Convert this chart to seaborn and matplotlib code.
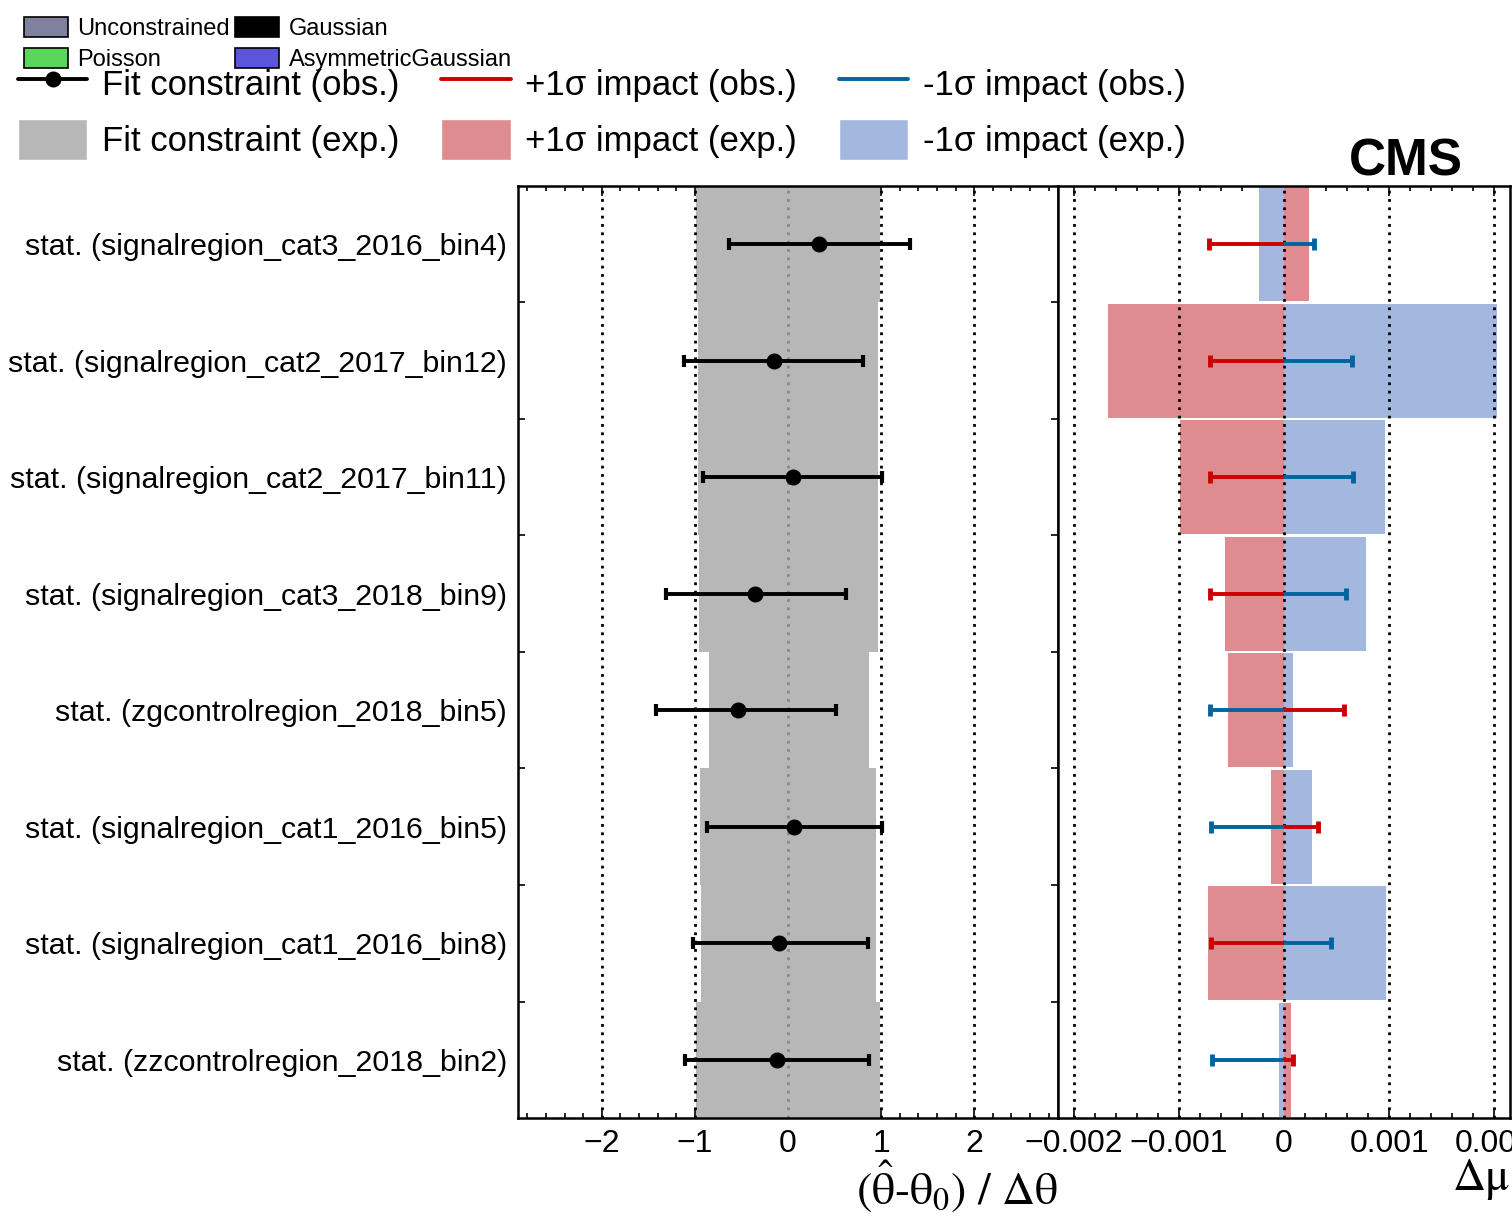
import numpy as np
import pandas as pd
import matplotlib
matplotlib.use("Agg")
import matplotlib.pyplot as plt
from matplotlib.lines import Line2D
from matplotlib.patches import Patch
from matplotlib.ticker import FixedLocator, MultipleLocator
import seaborn as sns

# ─────────────────────────────────────────────
# DONNÉES
# ─────────────────────────────────────────────

PARAMS = [
    "stat. (signalregion_cat3_2016_bin4)",
    "stat. (signalregion_cat2_2017_bin12)",
    "stat. (signalregion_cat2_2017_bin11)",
    "stat. (signalregion_cat3_2018_bin9)",
    "stat. (zgcontrolregion_2018_bin5)",
    "stat. (signalregion_cat1_2016_bin5)",
    "stat. (signalregion_cat1_2016_bin8)",
    "stat. (zzcontrolregion_2018_bin2)",
]

# pull observé : valeur centrale + bornes
FIT_OBS    = [0.33, -0.15, 0.056, -0.355, -0.534, 0.067, -0.093, -0.12]
FIT_OBS_LO = [-0.635, -1.12, -0.91, -1.31, -1.42, -0.874, -1.02, -1.11]
FIT_OBS_HI = [1.31, 0.81, 1.01, 0.62, 0.515, 1.01, 0.855, 0.87]

# contrainte attendue (bande grise)
FIT_EXP_LO = [-0.985, -0.97, -0.97, -0.96, -0.85, -0.945, -0.935, -0.99]
FIT_EXP_HI = [0.985, 0.97, 0.97, 0.97, 0.87, 0.945, 0.945, 0.985]

# impacts sur mu
IMP_UP_OBS = [-0.00071, -0.000705, -0.0007, -0.0007, 0.00057, 0.00032, -0.00069, 0.00009]
IMP_DN_OBS = [0.00029, 0.00065, 0.00066, 0.00059, -0.0007, -0.00069, 0.00045, -0.00068]
IMP_UP_EXP = [0.00024, -0.00167, -0.00099, -0.00056, -0.00053, -0.000124, -0.00072, 0.000064]
IMP_DN_EXP = [-0.00024, 0.00203, 0.00096, 0.00078, 0.000086, 0.00027, 0.00097, -0.00005]

L_TICKS = [-2, -1, 0, 1, 2]
R_TICKS = [-0.002, -0.001, 0, 0.001, 0.002]
R_TICK_LABELS = ["\u22120.002", "\u22120.001", "0", "0.001", "0.002"]

CONSTRAINT_TYPES = ["Unconstrained", "Poisson", "Gaussian", "AsymmetricGaussian"]

# couleurs
GREY  = "#b7b7b7"
RED   = "#cc0000"
BLUE  = "#00649e"
PINK  = "#de8c8f"
LBLUE = "#a4b8df"
TYPE_COLORS = ["#8080a0", "#5ad65a", "#000000", "#5a55d9"]

# ─────────────────────────────────────────────
# STYLE
# ─────────────────────────────────────────────

sns.set_theme(style="ticks")
plt.rcParams["font.family"] = ["Liberation Sans", "DejaVu Sans"]
plt.rcParams["mathtext.fontset"] = "stix"
plt.rcParams["axes.linewidth"] = 1.8
plt.rcParams["axes.edgecolor"] = "black"
plt.rcParams["text.color"] = "black"
plt.rcParams["axes.labelcolor"] = "black"
plt.rcParams["xtick.color"] = "black"
plt.rcParams["ytick.color"] = "black"

fig = plt.figure(figsize=(15.12, 12.18), dpi=100)
ax_l = fig.add_axes([0.3426, 0.0821, 0.3571, 0.7652])
ax_r = fig.add_axes([0.6997, 0.0821, 0.2990, 0.7652])

y = np.arange(len(PARAMS))
dots = (0, (1, 2))

# ── panneau gauche : pulls ───────────────────
lo = np.array(FIT_EXP_LO)
hi = np.array(FIT_EXP_HI)
ax_l.barh(y, hi - lo, left=lo, height=1.0, color=GREY, lw=0, zorder=1)

for xv in L_TICKS:
    c = "#888888" if xv == 0 else "black"
    ax_l.axvline(xv, color=c, ls=dots, lw=2.0, zorder=2)

obs = np.array(FIT_OBS)
ax_l.errorbar(obs, y,
              xerr=[obs - np.array(FIT_OBS_LO), np.array(FIT_OBS_HI) - obs],
              fmt="o", color="black", ms=10.5, lw=2.8,
              capsize=4.5, capthick=3, zorder=4)

ax_l.set_xlim(-2.9, 2.9)
ax_l.set_ylim(len(PARAMS) - 0.5, -0.5)
ax_l.set_xticks(L_TICKS)
ax_l.xaxis.set_minor_locator(MultipleLocator(0.2))
ax_l.set_yticks(y, labels=PARAMS)
ax_l.yaxis.set_minor_locator(FixedLocator(np.arange(0.5, len(PARAMS) - 1, 1)))
ax_l.tick_params(axis="x", which="both", direction="in", top=True, bottom=True,
                 labelsize=23, pad=8, width=1.2)
ax_l.tick_params(axis="x", which="major", length=7)
ax_l.tick_params(axis="x", which="minor", length=3.5)
ax_l.tick_params(axis="y", which="major", length=0, pad=8, labelsize=21.9)
ax_l.tick_params(axis="y", which="minor", direction="in", left=True, right=True,
                 length=5, width=1.2)
ax_l.set_xlabel(r"($\hat{\mathrm{\theta}}$-θ$_{0}$) / Δθ", loc="right",
                fontsize=33, fontfamily="STIXGeneral", labelpad=0)

# ── panneau droit : impacts ──────────────────
df = pd.DataFrame({"param": PARAMS, "up_exp": IMP_UP_EXP, "dn_exp": IMP_DN_EXP})
sns.barplot(data=df, x="up_exp", y="param", color=PINK, saturation=1,
            width=0.98, errorbar=None, linewidth=0, ax=ax_r, zorder=1)
sns.barplot(data=df, x="dn_exp", y="param", color=LBLUE, saturation=1,
            width=0.98, errorbar=None, linewidth=0, ax=ax_r, zorder=1)

for xv in R_TICKS:
    ax_r.axvline(xv, color="black", ls=dots, lw=2.0, zorder=2)

ax_r.hlines(y, 0, IMP_DN_OBS, color=BLUE, lw=2.8, zorder=4)
ax_r.plot(IMP_DN_OBS, y, ls="none", marker="|", ms=9, mew=3.5, color=BLUE, zorder=5)
ax_r.hlines(y, 0, IMP_UP_OBS, color=RED, lw=2.8, zorder=4)
ax_r.plot(IMP_UP_OBS, y, ls="none", marker="|", ms=9, mew=3.5, color=RED, zorder=5)

ax_r.set_xlim(-0.00215, 0.00215)
ax_r.set_ylim(len(PARAMS) - 0.5, -0.5)
ax_r.set_xticks(R_TICKS, labels=R_TICK_LABELS)
ax_r.xaxis.set_minor_locator(MultipleLocator(0.0002))
ax_r.tick_params(axis="x", which="both", direction="in", top=True, bottom=True,
                 labelsize=23, pad=8, width=1.2)
ax_r.tick_params(axis="x", which="major", length=7)
ax_r.tick_params(axis="x", which="minor", length=3.5)
ax_r.tick_params(axis="y", which="both", left=False, labelleft=False)
ax_r.set_ylabel("")
ax_r.set_xlabel("Δμ", loc="right", fontsize=33, fontfamily="STIXGeneral", labelpad=0)

for ax in (ax_l, ax_r):
    for sp in ax.spines.values():
        sp.set_visible(True)
        sp.set_linewidth(1.8)
        sp.set_color("black")

# ── légendes ─────────────────────────────────
type_handles = [Patch(facecolor=c, edgecolor="black", lw=1.2, label=t)
                for t, c in zip(CONSTRAINT_TYPES, TYPE_COLORS)]
fig.legend(handles=type_handles, ncol=2, loc="upper left",
           bbox_to_anchor=(24 / 1512, 1 - 17 / 1218), frameon=False,
           fontsize=17, handlelength=1.85, handleheight=0.95, handletextpad=0.42,
           columnspacing=0.2, labelspacing=0.33, borderpad=0, borderaxespad=0)

main_handles = [
    Line2D([], [], color="black", lw=2.8, marker="o", ms=10.5, label="Fit constraint (obs.)"),
    Patch(facecolor=GREY, label="Fit constraint (exp.)"),
    Line2D([], [], color=RED, lw=2.8, label="+1σ impact (obs.)"),
    Patch(facecolor=PINK, label="+1σ impact (exp.)"),
    Line2D([], [], color=BLUE, lw=2.8, label="-1σ impact (obs.)"),
    Patch(facecolor=LBLUE, label="-1σ impact (exp.)"),
]
fig.legend(handles=main_handles, ncol=3, loc="upper left",
           bbox_to_anchor=(18 / 1512, 1 - 63 / 1218), frameon=False,
           fontsize=25, handlelength=2.0, handleheight=1.45, handletextpad=0.42,
           columnspacing=1.2, labelspacing=0.42, borderpad=0, borderaxespad=0)

fig.text(1463 / 1512, 1 - 176 / 1218, "CMS", ha="right", va="baseline",
         fontsize=37, fontweight="bold")

fig.savefig("out.png", dpi=100)
